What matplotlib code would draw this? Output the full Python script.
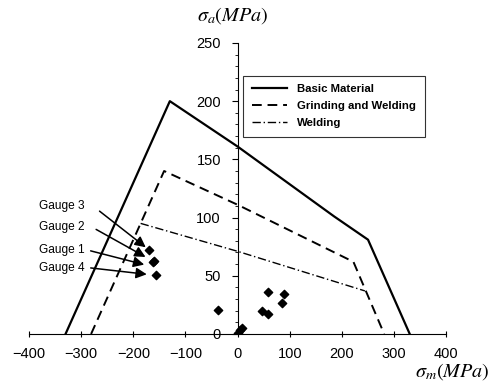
import numpy as np
import matplotlib
matplotlib.use("Agg")
import matplotlib.pyplot as plt
from matplotlib.ticker import MultipleLocator

plt.rcParams['font.family'] = ['Liberation Sans', 'DejaVu Sans']
plt.rcParams['mathtext.fontset'] = 'stix'

# limit curves (sigma_m, sigma_a)
basic_x = [-330, -130, 0, 185, 250, 330]
basic_y = [0, 200, 161, 101, 81, 0]
grind_x = [-281, -141, 0, 222, 281]
grind_y = [0, 140, 111, 62, 0]
weld_x = [-186, 0, 244]
weld_y = [95, 71, 37]

# measured points
pts_x = [-169, -160, -163, -156, -38, 46, 59, 59, 88, 86, 1, 4, 9]
pts_y = [72, 63, 62, 51, 21, 20, 17, 36, 34, 27, 1, 3, 5]

gauge_names = ['Gauge 3', 'Gauge 2', 'Gauge 1', 'Gauge 4']
gauge_text_y = [110, 92, 72, 57]
gauge_start = [(-269, 107), (-276, 91), (-287, 72), (-287, 57)]
gauge_end = [(-172, 73), (-172, 65), (-174, 59), (-169, 51)]

fig = plt.figure(figsize=(4.92, 3.87), dpi=100)
ax = fig.add_axes([0.059, 0.137, 0.848, 0.752])

ax.plot(weld_x, weld_y, color='black', lw=1.0, linestyle=(0, (6, 2, 1, 2)),
        label='Welding', zorder=1)
ax.plot(grind_x, grind_y, color='black', lw=1.4, linestyle=(0, (5, 3)),
        label='Grinding and Welding', zorder=2)
ax.plot(basic_x, basic_y, color='black', lw=1.6, label='Basic Material', zorder=3)
ax.scatter(pts_x, pts_y, marker='D', s=18, color='black', zorder=4)

for name, ty, s, e in zip(gauge_names, gauge_text_y, gauge_start, gauge_end):
    ax.text(-380, ty, name, fontsize=8.6, va='center', ha='left')
    ax.annotate('', xy=e, xytext=s,
                arrowprops=dict(arrowstyle='-|>', color='black', lw=1.1,
                                mutation_scale=16))

ax.set_xlim(-400, 400)
ax.set_ylim(0, 250)
ax.spines['left'].set_position(('data', 0))
ax.spines['right'].set_visible(False)
ax.spines['top'].set_visible(False)
ax.xaxis.set_major_locator(MultipleLocator(100))
ax.yaxis.set_major_locator(MultipleLocator(50))
ax.yaxis.set_minor_locator(MultipleLocator(10))
ax.tick_params(axis='x', direction='inout', length=5, labelsize=10.5, pad=7)
ax.tick_params(axis='y', which='major', direction='out', length=4, labelsize=10.5, pad=8)
ax.tick_params(axis='y', which='minor', direction='out', length=2)

handles, labels = ax.get_legend_handles_labels()
order = [2, 1, 0]
leg = ax.legend([handles[i] for i in order], [labels[i] for i in order],
                loc='upper left', bbox_to_anchor=(0.513, 0.887), fontsize=8.2,
                frameon=True, fancybox=False, edgecolor='black',
                borderaxespad=0, handlelength=3.1, handletextpad=0.9,
                borderpad=0.75, labelspacing=0.6)
leg.get_frame().set_linewidth(0.8)
for t in leg.get_texts():
    t.set_fontweight('bold')

fig.text(0.473, 0.96, r'$\sigma_a(MPa)$', fontsize=14.5, ha='center', va='center')
fig.text(0.919, 0.04, r'$\sigma_m(MPa)$', fontsize=14.5, ha='center', va='center')

fig.savefig('out.png', dpi=100)
